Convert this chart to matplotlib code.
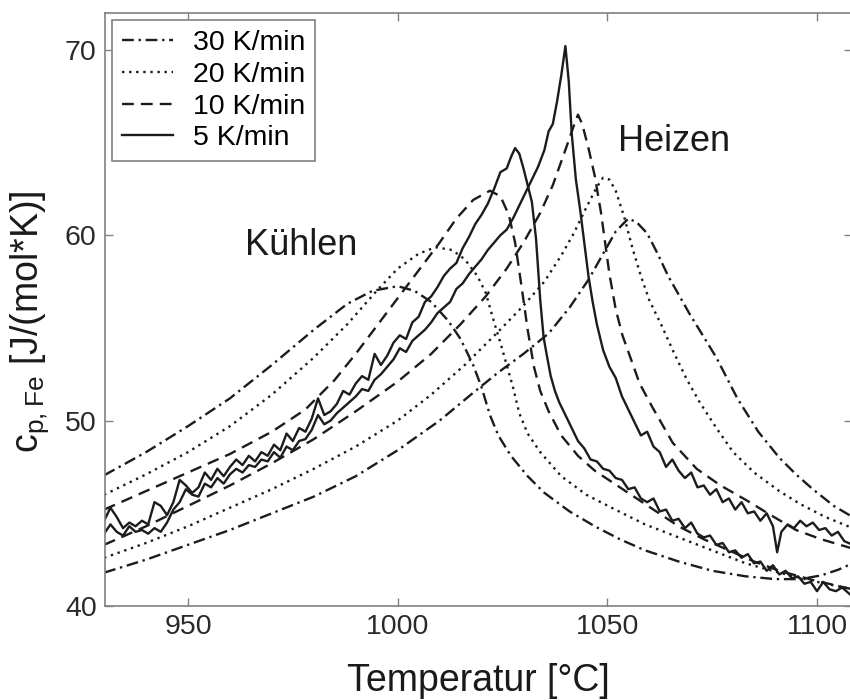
import matplotlib
matplotlib.use("Agg")
import matplotlib.pyplot as plt

plt.rcParams['font.family'] = ['Liberation Sans', 'DejaVu Sans']
plt.rcParams['mathtext.default'] = 'regular'

# ---------------- data ----------------
legend_labels = ["30 K/min", "20 K/min", "10 K/min", "5 K/min"]
x_ticks = [950, 1000, 1050, 1100]
y_ticks = [40, 50, 60, 70]

# 30 K/min cooling
c30_x = [930, 940, 950, 960, 970, 980, 988, 994, 1000, 1004, 1008, 1012, 1015, 1018, 1020,
         1022, 1024, 1027, 1031, 1035, 1041, 1047, 1053, 1059, 1067, 1075, 1083, 1090, 1096,
         1101, 1105, 1108.5]
c30_y = [47.05, 48.3, 49.7, 51.2, 53.0, 54.9, 56.3, 57.0, 57.25, 57.0, 56.4, 55.4, 54.4, 53.0,
         51.8, 50.3, 49.2, 48.1, 47.0, 46.1, 45.1, 44.3, 43.6, 43.0, 42.4, 41.9, 41.6, 41.45,
         41.45, 41.65, 41.95, 42.3]
# 30 K/min heating
h30_x = [930, 940, 950, 960, 970, 980, 990, 1000, 1010, 1018, 1024, 1030, 1036, 1041, 1045.5,
         1049, 1052, 1055, 1057, 1059.5, 1062, 1064.5, 1069.5, 1076, 1081, 1086, 1091, 1095,
         1099, 1104, 1108.5]
h30_y = [41.8, 42.5, 43.3, 44.1, 45.0, 45.9, 47.0, 48.4, 50.0, 51.5, 52.6, 53.6, 54.7, 56.1,
         57.6, 59.0, 60.2, 60.9, 60.7, 60.1, 59.0, 57.8, 55.8, 53.4, 51.2, 49.4, 48.0, 47.1,
         46.3, 45.4, 44.8]
# 20 K/min cooling
c20_x = [930, 940, 950, 960, 970, 980, 988, 995, 1000, 1005, 1009, 1013, 1016, 1019, 1021,
         1023, 1024.5, 1026, 1027.5, 1029, 1031, 1034, 1039, 1045, 1051, 1059, 1067, 1075,
         1083, 1091, 1099, 1108.5]
c20_y = [46.0, 47.1, 48.3, 49.7, 51.4, 53.4, 55.2, 57.0, 58.2, 59.0, 59.35, 59.2, 58.7, 57.8,
         56.9, 55.3, 54.2, 53.0, 51.8, 50.4, 49.3, 48.3, 47.0, 46.0, 45.3, 44.4, 43.7, 43.0,
         42.3, 41.8, 41.35, 40.9]
# 20 K/min heating
h20_x = [930, 940, 950, 960, 970, 980, 990, 1000, 1008, 1016, 1024, 1030, 1035, 1039, 1042,
         1045, 1047.5, 1049, 1050.5, 1052, 1054, 1056, 1058, 1060, 1063, 1066, 1069, 1072,
         1076, 1080, 1085, 1091, 1096, 1102, 1108.5]
h20_y = [42.6, 43.4, 44.3, 45.3, 46.3, 47.4, 48.6, 50.0, 51.4, 53.0, 54.8, 56.2, 57.5, 58.9,
         60.1, 61.5, 62.6, 63.1, 63.0, 62.4, 61.0, 59.3, 57.8, 56.5, 55.1, 53.6, 52.2, 51.0,
         49.6, 48.3, 47.2, 46.2, 45.5, 44.8, 44.2]
# 10 K/min cooling
c10_x = [930, 940, 950, 960, 970, 978, 985, 990, 995, 1000, 1005, 1010, 1014, 1018, 1022,
         1024.5, 1026.5, 1028, 1029.5, 1031, 1032.5, 1034, 1036, 1039, 1043, 1047, 1051, 1055,
         1061, 1067, 1073, 1079, 1085, 1091, 1099, 1108.5]
c10_y = [45.2, 46.2, 47.2, 48.2, 49.4, 50.6, 52.2, 53.6, 55.1, 56.6, 58.1, 59.6, 60.9, 61.9,
         62.4, 62.1, 61.1, 59.6, 57.3, 54.9, 52.9, 51.6, 50.5, 49.2, 48.1, 47.3, 46.7, 46.1,
         45.2, 44.3, 43.6, 43.0, 42.4, 41.9, 41.4, 40.9]
# 10 K/min heating
h10_x = [930, 940, 950, 960, 970, 980, 990, 1000, 1008, 1015, 1021, 1026, 1030, 1034, 1037,
         1040, 1042, 1043, 1044, 1045.5, 1047, 1048.5, 1050.5, 1052, 1053.6, 1055.5, 1057.7,
         1060.8, 1065.6, 1071.3, 1077, 1083.2, 1089, 1095, 1101, 1108.5]
h10_y = [43.3, 44.3, 45.4, 46.5, 47.7, 49.0, 50.5, 52.1, 53.6, 55.2, 56.7, 58.2, 59.6, 61.2,
         62.7, 64.6, 65.9, 66.5, 66.0, 64.7, 63.2, 61.2, 57.9, 56.0, 54.6, 53.4, 52.0, 50.7,
         48.8, 47.4, 46.5, 45.7, 44.9, 44.1, 43.6, 43.1]
# 5 K/min cooling (measured, noisy)
c5_x = [930, 931.5, 933, 934.5, 936, 937.5, 939, 940.5, 942, 943.5, 945, 946.5, 948, 949.5,
        951, 952.5, 954, 955.5, 957, 958.5, 960, 961.5, 963, 964.5, 966, 967.5, 969, 970.5,
        972, 973.5, 975, 976.5, 978, 979.5, 981, 982.5, 984, 985.5, 987, 988.5, 990, 991.5,
        993, 994.5, 996, 997.5, 999, 1000.5, 1002, 1003.5, 1005, 1006.5, 1008, 1009.5, 1011,
        1012.5, 1014, 1015.5, 1017, 1018.5, 1020, 1021.5, 1023, 1024.5, 1026, 1027, 1028,
        1029, 1030, 1031, 1032, 1033, 1034, 1034.8, 1035.5, 1036.5, 1037.5, 1038.5, 1040,
        1041.5, 1043, 1044.5, 1046, 1047.5, 1049, 1050.5, 1052, 1053.5, 1055, 1056.5, 1058,
        1059.5, 1061, 1062.5, 1064, 1065.5, 1067, 1068.5, 1070, 1071.5, 1073, 1074.5, 1076,
        1077.5, 1079, 1080.5, 1082, 1083.5, 1085, 1086.5, 1088, 1089.5, 1091, 1092.5, 1094,
        1095.5, 1097, 1098.5, 1100, 1101.5, 1103, 1104.5, 1106, 1108.5]
c5_y = [44.6, 45.3, 44.8, 44.2, 44.5, 44.3, 44.6, 44.4, 45.6, 45.4, 44.9, 45.6, 46.8, 46.5,
        46.1, 46.4, 47.2, 46.8, 47.4, 47.0, 47.5, 47.9, 47.6, 48.1, 47.8, 48.3, 48.1, 48.7,
        48.4, 49.3, 48.9, 49.6, 49.4, 50.1, 51.2, 50.3, 50.5, 50.9, 51.6, 51.4, 52.0, 52.4,
        52.2, 53.6, 53.0, 53.5, 54.2, 54.6, 54.4, 55.3, 55.6, 56.4, 56.7, 57.2, 57.8, 58.2,
        58.5, 59.3, 59.9, 60.6, 61.1, 61.7, 62.5, 63.4, 63.6, 64.2, 64.7, 64.4, 63.6, 62.7,
        61.8, 59.8, 56.5, 54.5, 53.6, 52.4, 51.6, 51.0, 50.3, 49.6, 48.9, 48.5, 47.9, 47.8,
        47.4, 47.3, 46.9, 46.8, 46.3, 46.4, 45.8, 45.6, 45.8, 45.1, 45.2, 44.6, 44.7, 44.2,
        44.5, 43.9, 43.7, 43.8, 43.3, 43.4, 42.9, 43.0, 42.6, 42.8, 42.3, 42.4, 41.9, 42.2,
        41.7, 41.9, 41.5, 41.6, 41.2, 41.3, 40.8, 41.3, 40.9, 40.8, 41.0, 40.5]
# 5 K/min heating (measured, noisy)
h5_x = [930, 931.5, 933, 934.5, 936, 937.5, 939, 940.5, 942, 943.5, 945, 946.5, 948, 949.5,
        951, 952.5, 954, 955.5, 957, 958.5, 960, 961.5, 963, 964.5, 966, 967.5, 969, 970.5,
        972, 973.5, 975, 976.5, 978, 979.5, 981, 982.5, 984, 985.5, 987, 988.5, 990, 991.5,
        993, 994.5, 996, 997.5, 999, 1000.5, 1002, 1003.5, 1005, 1006.5, 1008, 1009.5, 1011,
        1012.5, 1014, 1015.5, 1017, 1018.5, 1020, 1021.5, 1023, 1024.5, 1026, 1027.5, 1029,
        1030.5, 1032, 1033.5, 1035, 1036, 1037, 1038, 1039, 1040, 1040.8, 1041.5, 1042.5,
        1043.5, 1044.5, 1045.5, 1046.5, 1047.5, 1049, 1050.5, 1052, 1053.5, 1055, 1056.5,
        1058, 1059.5, 1061, 1062.5, 1064, 1065.5, 1067, 1068.5, 1070, 1071.5, 1073, 1074.5,
        1076, 1077.5, 1079, 1080.5, 1082, 1083.5, 1085, 1086.5, 1088, 1089.5, 1090.5, 1091.5,
        1093, 1094.5, 1096, 1097.5, 1099, 1100.5, 1102, 1103.5, 1105, 1106.5, 1108.5]
h5_y = [43.9, 44.4, 44.0, 43.8, 44.3, 44.0, 44.1, 43.9, 44.2, 44.0, 44.5, 45.2, 45.6, 46.3,
        46.0, 45.9, 46.6, 46.4, 46.9, 46.6, 47.1, 47.4, 47.2, 47.6, 47.5, 47.9, 47.8, 48.3,
        48.0, 48.6, 48.4, 48.9, 49.0, 49.5, 50.3, 49.8, 50.0, 50.4, 50.7, 51.0, 51.3, 51.7,
        51.6, 52.2, 52.5, 52.9, 53.3, 53.9, 53.7, 54.3, 54.6, 54.9, 55.3, 55.8, 56.1, 56.4,
        57.1, 57.4, 57.9, 58.3, 58.7, 59.2, 59.6, 60.0, 60.3, 60.9, 61.6, 62.3, 63.0, 63.7,
        64.6, 65.6, 66.0, 67.2, 68.6, 70.2, 68.3, 65.5, 63.0, 61.4, 59.6, 57.8, 56.4, 55.2,
        53.8, 52.9, 52.3, 51.3, 50.6, 49.9, 49.2, 49.4, 48.6, 48.3, 47.5, 47.9, 47.3, 46.9,
        47.2, 46.4, 46.5, 46.0, 46.3, 45.6, 45.8, 45.2, 45.6, 45.0, 45.1, 44.6, 45.0, 44.3,
        42.9, 44.0, 44.4, 44.2, 44.6, 44.3, 44.5, 44.1, 44.2, 43.8, 44.0, 43.5, 43.3]

# ---------------- figure ----------------
ink = "#1c1c1c"
grey = "#808080"
fig = plt.figure(figsize=(8.5, 7), dpi=100)
ax = fig.add_axes([105 / 850, 94 / 700, 747 / 850, 593.3 / 700])

lw = 1.7
st30 = (0, (5.0, 2.0, 1.0, 2.0))
st20 = (0, (1.0, 2.0))
st10 = (0, (5.0, 3.0))

ax.plot(c30_x, c30_y, color=ink, lw=lw, linestyle=st30, label=legend_labels[0])
ax.plot(c20_x, c20_y, color=ink, lw=lw, linestyle=st20, label=legend_labels[1])
ax.plot(c10_x, c10_y, color=ink, lw=lw, linestyle=st10, label=legend_labels[2])
ax.plot(c5_x, c5_y, color=ink, lw=lw, linestyle='-', label=legend_labels[3])
ax.plot(h30_x, h30_y, color=ink, lw=lw, linestyle=st30)
ax.plot(h20_x, h20_y, color=ink, lw=lw, linestyle=st20)
ax.plot(h10_x, h10_y, color=ink, lw=lw, linestyle=st10)
ax.plot(h5_x, h5_y, color=ink, lw=lw, linestyle='-')

ax.set_xlim(930.2, 1108.35)
ax.set_ylim(40, 72)
ax.set_xticks(x_ticks)
ax.set_yticks(y_ticks)
ax.tick_params(direction='in', length=6, width=1, color=grey, top=True, right=True,
               labelsize=20.5, labelcolor="#2a2a2a", pad=6)
for s in ax.spines.values():
    s.set_color(grey)
    s.set_linewidth(1.2)

ax.set_xlabel("Temperatur [°C]", fontsize=27, color="#1a1a1a", va='center')
ax.xaxis.set_label_coords(0.5, (606 - 681) / 593.3)
ax.set_ylabel("c$_{p,Fe}$ [J/(mol*K)]", fontsize=27, color="#1a1a1a", va='center')
ax.yaxis.set_label_coords((30 - 105) / 747, (606 - 322) / 593.3)

ax.text(977, 59.45, "Kühlen", fontsize=26, color="#1a1a1a", ha='center', va='center')
ax.text(1065.8, 65.05, "Heizen", fontsize=26, color="#1a1a1a", ha='center', va='center')

leg = ax.legend(loc='upper left', bbox_to_anchor=(7 / 747, 1 - 7.5 / 593.3), borderaxespad=0,
                fontsize=20.5, handlelength=1.8, handletextpad=0.7, labelspacing=0.2,
                borderpad=0.35, fancybox=False, framealpha=1)
leg.get_frame().set_edgecolor(grey)
leg.get_frame().set_linewidth(1.2)

fig.savefig("out.png", dpi=100)
